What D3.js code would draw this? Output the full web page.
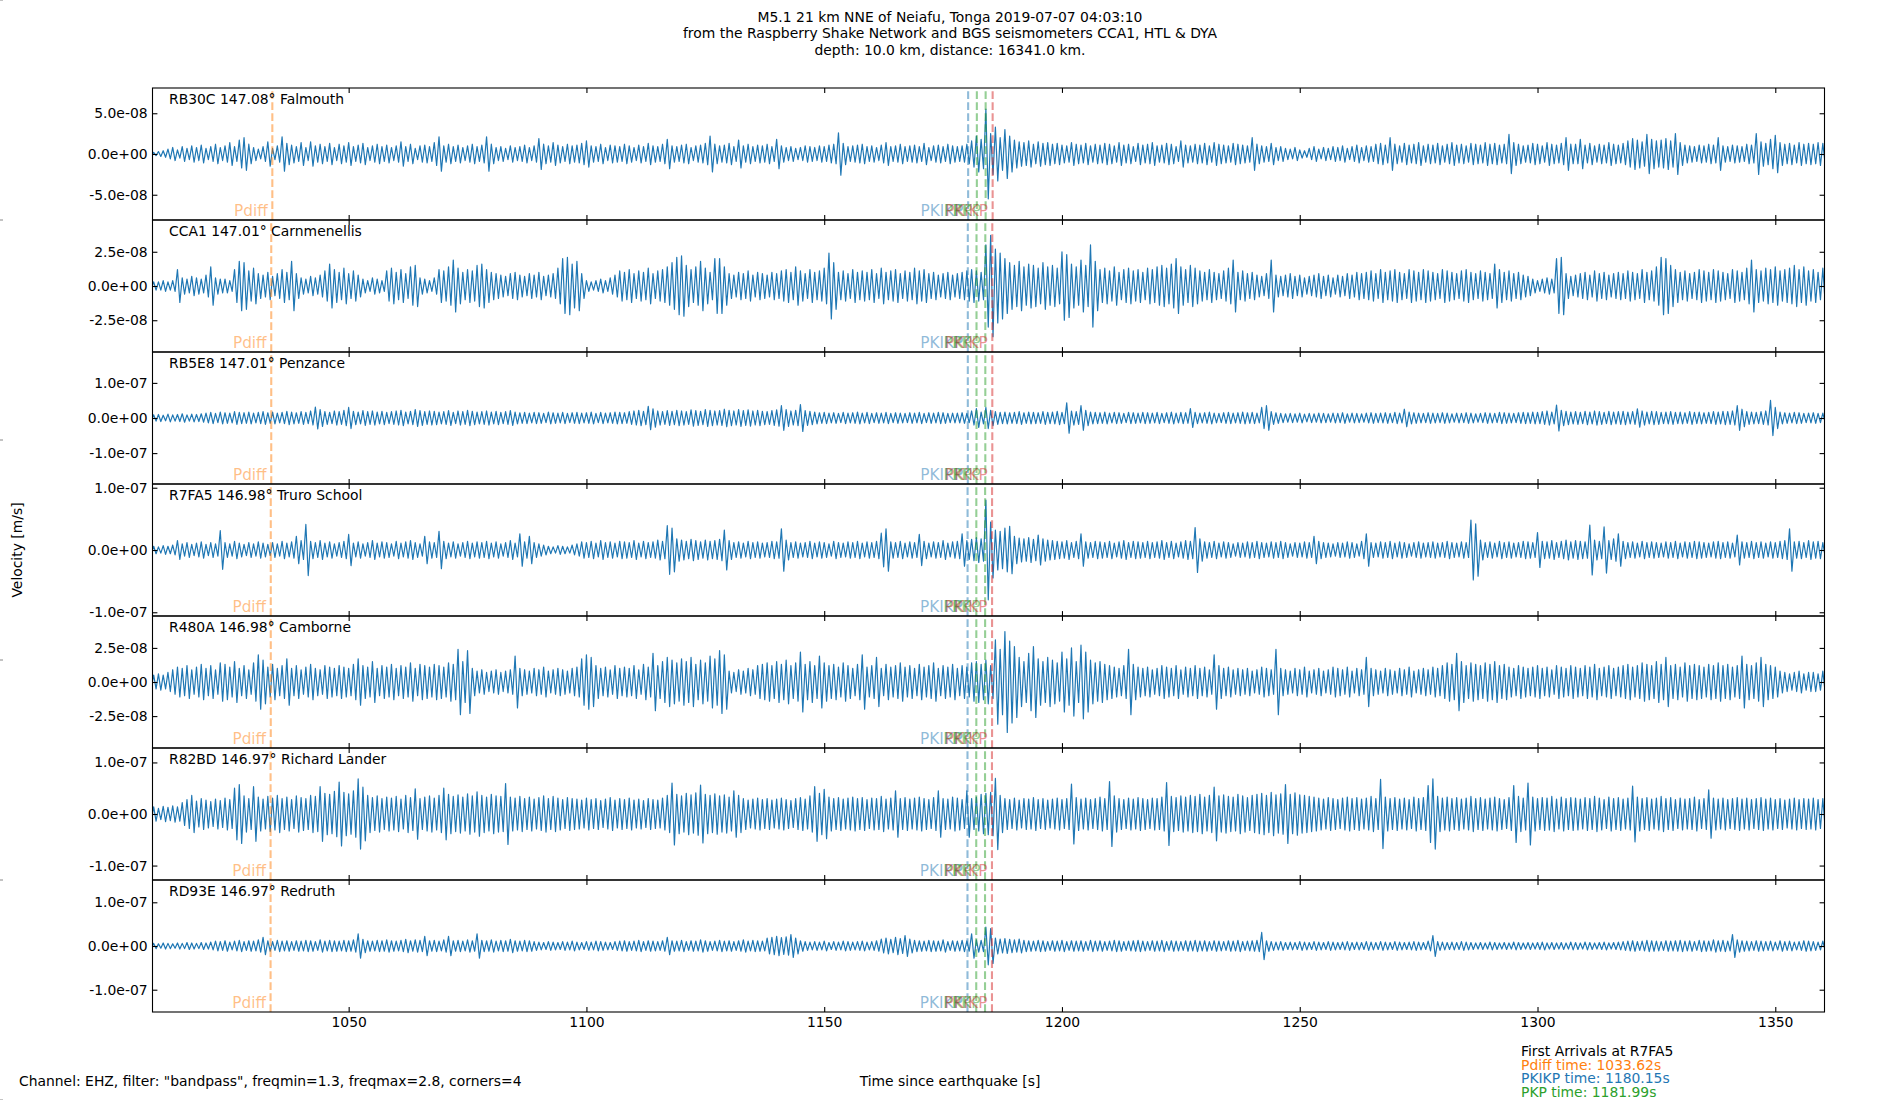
<!DOCTYPE html>
<html lang="en">
<head>
<meta charset="UTF-8">
<title>M5.1 Tonga - Raspberry Shake section</title>
<script src="https://d3js.org/d3.v7.min.js"></script>
<style>
  html, body { margin: 0; padding: 0; background: #fff; }
  svg text { font-family: "DejaVu Sans", sans-serif; }
</style>
</head>
<body>
<div id="chart"></div>
<script>

// ---- data -----------------------------------------------------------

var titleLines = [
  "M5.1 21 km NNE of Neiafu, Tonga 2019-07-07 04:03:10",
  "from the Raspberry Shake Network and BGS seismometers CCA1, HTL & DYA",
  "depth: 10.0 km, distance: 16341.0 km."
];

var stationLabels = [
  "RB30C 147.08° Falmouth",
  "CCA1 147.01° Carnmenellis",
  "RB5E8 147.01° Penzance",
  "R7FA5 146.98° Truro School",
  "R480A 146.98° Camborne",
  "R82BD 146.97° Richard Lander",
  "RD93E 146.97° Redruth"
];

// symmetric y limits per panel (m/s) and the ticks shown on each
var yLimits = [8.1e-8, 4.82e-8, 1.88e-7, 1.06e-7, 4.84e-8, 1.28e-7, 1.51e-7];
var yTicks = [
  [-5e-8, 0, 5e-8],
  [-2.5e-8, 0, 2.5e-8],
  [-1e-7, 0, 1e-7],
  [-1e-7, 0, 1e-7],
  [-2.5e-8, 0, 2.5e-8],
  [-1e-7, 0, 1e-7],
  [-1e-7, 0, 1e-7]
];

var xDomain = [1008.75, 1360.35];
var xTicks = [1050, 1100, 1150, 1200, 1250, 1300, 1350];

// phase arrival times per station (s)
var phaseNames = ["Pdiff", "PKIKP", "PKP", "PKP", "PKiKP"];
var pdiffTimes = [1033.95, 1033.72, 1033.72, 1033.62, 1033.62, 1033.58, 1033.58];
var pkikpTimes = [1180.27, 1180.20, 1180.20, 1180.15, 1180.15, 1180.13, 1180.13];
var pkpTimes   = [1182.10, 1182.03, 1182.03, 1181.99, 1181.99, 1181.97, 1181.97];
var pkp2Times  = [1183.95, 1183.88, 1183.88, 1183.84, 1183.84, 1183.82, 1183.82];
var pkikpInnerTimes = [1185.42, 1185.35, 1185.35, 1185.30, 1185.30, 1185.28, 1185.28];

var arrivalLines = [
  "First Arrivals at R7FA5",
  "Pdiff time: 1033.62s",
  "PKIKP time: 1180.15s",
  "PKP time: 1181.99s"
];

// peak amplitude of each 1 s window, nm/s, starting at t = 1008 s
var traceStart = 1008;
var traceRB30C = [
  2,2,3,4,6,8,5,9,7,10, 8,11,7,9,12,8,10,14,9,17, 20,12,8,6,9,15,7,10,21,13,
  11,9,14,8,15,10,12,9,13,8, 12,10,14,9,11,13,8,10,12,9, 11,8,10,15,9,12,7,10,11,9,
  14,21,10,12,9,11,8,10,12,9, 11,21,12,8,9,7,10,8,9,11, 8,10,19,12,10,14,11,9,12,10,
  11,13,16,10,9,12,8,11,10,9, 12,10,8,11,9,13,10,9,12,18, 10,9,11,12,8,10,11,13,22,12,
  10,11,13,9,17,10,12,9,11,10, 12,9,18,10,8,9,7,8,10,9, 8,10,9,11,12,26,13,9,10,11,
  12,9,10,8,11,14,9,10,12,9, 10,11,9,13,8,10,11,9,12,10, 9,10,12,16,22,18,55,25,33,20,
  30,22,17,15,14,16,12,15,13,14, 12,13,11,10,14,12,11,13,10,12, 11,13,12,10,14,11,12,9,13,11,
  12,14,10,11,13,12,9,16,11,10, 12,11,13,10,14,12,11,10,13,12, 11,10,20,12,10,9,13,8,9,7,
  6,8,5,4,7,9,6,8,7,9, 8,10,7,9,11,8,10,9,12,13, 11,20,12,10,13,11,12,14,10,12,
  11,13,10,12,14,11,12,10,13,12, 11,14,12,13,11,12,24,14,12,10, 11,13,12,10,14,12,11,13,20,12,
  12,18,11,13,10,12,11,14,12,11, 13,16,19,17,15,24,18,16,17,19, 16,25,14,11,10,9,11,10,12,11,
  20,10,9,11,10,9,12,11,25,15, 13,18,23,14,12,13,11,14,12,13, 12,14,13
];
var traceCCA1 = [
  2,3,3,4,3,4,12,6,5,7, 6,5,8,14,6,5,5,4,12,18, 17,11,13,9,8,10,7,9,12,10,
  18,9,6,5,7,6,8,11,16,12, 10,13,9,11,8,5,4,6,5,4, 11,13,10,12,9,14,15,6,5,4,
  6,12,11,14,19,13,10,12,11,15, 16,12,10,9,8,7,9,10,8,7, 9,8,10,7,8,9,13,20,21,16,
  18,9,4,3,4,5,4,6,8,11, 10,12,9,11,10,13,9,11,12,14, 17,21,22,15,12,14,18,13,10,20,
  20,14,9,8,10,9,11,8,10,9, 8,10,9,11,12,10,14,11,9,12, 10,11,13,24,17,10,11,9,12,10,
  11,10,12,9,13,10,11,12,9,11, 10,13,11,12,9,10,8,9,10,8, 9,10,11,12,11,10,30,37,27,24,
  20,17,15,18,14,16,15,13,17,14, 15,13,25,23,16,14,19,15,30,18, 12,13,11,14,10,12,13,11,12,10,
  13,12,14,15,13,16,20,14,12,15, 13,11,10,12,10,9,11,13,19,10, 11,9,10,8,7,9,19,8,7,8,
  9,7,8,6,7,8,9,7,8,6, 8,7,9,8,10,9,10,11,9,12, 10,11,12,10,9,12,11,10,12,11,
  10,9,12,11,10,9,11,12,10,9, 11,10,9,16,12,10,11,9,10,8, 7,5,4,5,6,5,20,21,9,7,
  8,9,10,8,11,9,10,8,9,10, 9,11,10,9,12,10,11,14,21,20, 15,12,10,11,9,10,12,11,10,12,
  11,10,9,12,11,10,13,19,12,11, 13,12,14,11,12,13,15,12,14,11, 12,10,13
];
var traceRB5E8 = [
  8,9,10,8,11,9,10,12,9,11, 10,12,14,16,13,17,15,14,18,16, 15,17,14,16,18,15,17,14,16,19,
  17,15,18,16,20,31,24,18,16,20, 18,22,30,19,17,21,18,20,17,19, 16,18,20,22,17,19,24,21,18,20,
  19,17,18,21,16,20,18,22,19,17, 18,20,17,19,16,18,21,17,15,16, 14,16,15,13,17,15,14,16,13,15,
  16,14,15,17,13,16,14,15,17,16, 15,18,20,22,19,33,26,20,18,21, 19,22,20,18,23,21,19,24,22,20,
  21,25,22,20,24,21,23,20,22,19, 18,21,23,35,24,20,22,38,21,19, 17,15,16,14,15,13,16,14,15,17,
  14,16,13,15,14,16,13,15,14,13, 15,14,16,13,15,14,16,15,13,14, 14,15,13,20,27,17,30,22,18,16,
  17,15,16,18,15,17,16,15,18,16, 17,19,16,43,20,18,35,22,17,16, 15,17,14,16,15,13,16,15,14,16,
  15,14,16,13,15,17,14,16,15,27, 16,14,15,17,14,13,15,16,14,15, 17,15,16,14,30,35,18,15,13,12,
  13,12,14,11,13,12,14,13,12,14, 13,15,12,14,13,12,14,15,13,14, 15,13,16,14,25,17,15,14,13,15,
  14,13,15,14,12,14,13,15,14,12, 13,15,14,13,16,15,14,13,15,16, 15,17,16,18,20,17,37,22,19,17,
  18,16,19,17,20,18,16,19,17,18, 19,17,18,26,20,17,19,18,16,17, 18,16,17,15,18,16,17,15,16,18,
  17,19,18,20,35,25,18,17,16,18, 20,50,30,17,15,14,16,15,13,14, 15,13,14
];
var traceR7FA5 = [
  5,6,5,7,6,8,15,10,12,9, 11,13,9,12,10,31,12,10,14,11, 9,12,10,13,11,9,12,10,14,11,
  13,22,15,41,14,12,15,11,13,10, 12,14,25,11,13,10,12,15,11,13, 12,10,14,11,13,15,12,10,22,13,
  12,30,14,11,13,10,12,14,11,13, 12,14,11,13,10,12,15,11,26,13, 22,12,10,8,6,5,7,6,5,8,
  10,13,12,14,11,15,12,13,11,14, 13,12,15,11,14,12,13,16,14,39, 35,18,16,14,17,15,13,16,14,15,
  17,32,15,12,13,11,14,12,13,11, 12,14,13,34,16,12,13,11,12,14, 11,13,12,10,14,12,11,13,12,14,
  11,13,12,14,27,34,13,12,14,11, 13,12,25,14,11,13,12,15,11,13, 14,26,15,17,20,18,80,45,32,30,
  35,38,22,19,18,20,17,24,18,16, 15,14,13,15,12,14,26,13,12,14, 13,12,14,11,13,15,12,14,13,12,
  14,12,13,15,12,14,11,13,15,14, 36,18,13,12,14,11,13,12,10,12, 11,13,12,14,12,11,13,12,14,12,
  10,12,11,13,12,22,14,12,11,10, 12,11,13,12,10,14,26,12,11,13, 12,14,11,13,12,10,12,13,11,12,
  13,11,12,14,12,11,13,12,48,42, 16,12,13,11,14,12,13,11,12,14, 13,12,28,14,13,15,12,14,16,13,
  15,14,13,40,16,14,37,15,18,26, 14,12,13,11,14,12,13,12,11,13, 12,14,11,13,12,14,13,12,11,13,
  14,12,13,11,24,13,12,14,12,13, 11,13,12,14,15,34,13,14,12,15, 13,14,12
];
var traceR480A = [
  4,5,6,5,7,9,11,10,12,9, 11,13,10,12,9,14,13,11,15,10, 12,9,14,20,16,11,13,10,12,17,
  10,12,9,11,13,10,9,12,11,10, 12,11,10,13,17,12,11,15,10,12, 11,13,10,12,11,14,10,13,12,11,
  13,12,11,14,13,24,15,23,10,8, 9,7,8,9,7,8,9,19,10,9, 8,10,9,11,8,9,10,9,8,10,
  11,17,20,18,12,10,11,9,12,10, 11,10,12,9,13,11,21,12,15,18, 16,14,17,15,18,13,16,14,19,17,
  23,20,8,7,9,8,10,9,12,13, 14,12,15,13,16,12,14,22,13,15, 12,19,14,12,13,11,14,12,10,13,
  20,11,12,18,10,13,11,12,14,11, 12,10,13,11,12,14,10,12,11,13, 10,12,11,14,15,13,16,12,31,24,
  37,30,26,18,15,21,26,17,15,18, 16,14,22,17,25,15,27,22,16,14, 15,13,12,11,10,12,24,13,11,10,
  11,9,10,12,11,10,12,9,11,10, 12,10,11,9,20,12,10,11,9,10, 9,10,8,9,11,10,9,24,10,9,
  8,10,9,11,8,9,10,8,9,11, 10,9,11,8,10,9,18,10,9,8, 10,9,8,10,9,11,8,9,10,9,
  11,10,12,14,13,21,15,12,14,13, 12,14,13,15,12,13,11,10,12,11, 10,11,12,10,11,9,12,11,10,12,
  11,10,12,11,13,10,11,12,10,11, 12,13,11,12,14,13,12,15,13,18, 12,13,11,14,12,13,12,11,13,12,
  14,12,13,11,12,19,13,12,14,18, 13,12,11,8,7,6,7,8,6,7, 7,6,8
];
var traceR82BD = [
  12,14,11,15,13,16,14,22,28,36, 25,30,27,24,29,26,31,28,50,57, 35,30,53,33,29,34,31,36,30,33,
  28,35,32,30,36,34,53,40,38,44, 62,42,39,45,68,52,36,32,35,30, 33,31,34,29,36,32,49,30,33,35,
  31,36,50,38,34,37,33,39,35,43, 36,33,38,35,34,59,33,31,34,30, 33,29,32,35,30,34,31,28,32,30,
  29,27,31,28,30,26,29,32,27,30, 28,31,27,29,26,30,28,27,31,36, 60,38,35,40,37,41,56,38,36,39,
  35,37,33,45,36,30,27,29,31,28, 30,27,29,31,28,26,30,32,29,35, 53,40,48,33,30,32,29,31,33,30,
  32,28,31,30,34,29,31,45,30,32, 29,31,33,30,28,32,45,30,29,33, 31,28,45,30,33,38,40,42,69,36,
  30,28,31,27,30,29,32,28,30,27, 29,31,28,30,58,32,29,31,28,30, 33,30,63,35,30,28,31,29,32,30,
  28,31,30,33,61,34,32,35,33,36, 34,38,33,36,52,35,37,34,33,38, 35,32,36,38,40,36,42,37,39,57,
  38,41,37,36,34,33,31,29,32,30, 28,31,33,30,32,29,31,34,30,67, 33,30,32,29,31,28,33,30,32,55,
  68,34,31,33,30,32,29,31,34,30, 32,29,31,33,30,28,32,55,34,31, 60,33,30,32,31,34,29,33,30,32,
  31,29,32,30,34,31,28,33,30,32, 29,31,54,33,30,32,29,31,34,30, 32,28,31,29,30,33,28,30,47,31,
  29,31,28,30,32,29,31,28,30,32, 29,31,28,30,27,29,31,28,30,29, 31,28,30
];
var traceRD93E = [
  5,6,5,7,6,5,7,6,8,7, 6,8,7,9,11,10,12,9,11,13, 10,12,11,14,20,12,10,13,11,12,
  10,12,11,13,12,10,14,11,13,12, 11,13,12,14,28,15,12,11,13,12, 14,12,11,13,15,12,14,13,22,12,
  13,11,14,22,12,13,11,14,12,28, 13,12,14,11,13,12,15,12,11,13, 12,10,9,8,10,9,8,10,9,11,
  9,8,10,9,11,10,9,8,10,11, 12,10,11,13,10,12,11,10,12,20, 12,11,13,10,12,11,14,12,10,11,
  13,11,12,10,12,14,11,13,12,11, 18,20,22,19,21,26,18,12,10,9, 10,9,11,8,10,9,11,10,9,10,
  11,9,10,12,16,18,15,20,17,24, 16,13,12,11,13,12,11,14,10,12, 11,13,12,28,14,13,43,40,18,16,
  17,15,14,16,13,12,11,13,12,10, 12,11,13,10,12,11,12,10,13,11, 12,10,11,13,12,10,11,12,13,11,
  10,12,11,13,10,12,11,10,12,11, 13,11,12,10,12,11,10,12,11,13, 10,11,12,13,31,12,10,9,10,8,
  9,8,10,9,8,10,9,8,10,9, 8,9,10,8,9,8,10,9,8,10, 9,8,10,9,8,9,10,9,8,11,
  24,10,9,8,9,8,10,9,8,7, 8,7,9,8,7,8,7,9,8,7, 8,7,8,9,7,8,7,8,7,9,
  8,7,9,8,7,8,9,7,8,9, 10,11,12,10,11,13,12,11,10,12, 11,12,13,11,12,10,13,12,11,14,
  12,13,11,26,14,12,11,10,12,11, 10,11,9,12,10,11,9,10,12,11, 10,9,11
];
var traces = [traceRB30C, traceCCA1, traceRB5E8, traceR7FA5, traceR480A, traceR82BD, traceRD93E];

// ---- layout -------------------------------------------------------------

var W = 1900, H = 1100;
var plotLeft = 152.5, plotRight = 1824.5, plotTop = 88, panelH = 132;
var tickLen = 4.9;
var fontMain = 13.9;   // 10 pt at 100 dpi
var fontPhase = 15.3;  // 11 pt

// matplotlib tab colours
var C0 = "#1f77b4", C1 = "#ff7f0e", C2 = "#2ca02c", C3 = "#d62728";
var phaseColors = [C1, C0, C2, C2, C3];

var svg = d3.select("#chart")
  .append("svg")
    .attr("width", W)
    .attr("height", H)
    .attr("viewBox", "0 0 " + W + " " + H);

svg.append("rect").attr("width", W).attr("height", H).attr("fill", "#fff");

var x = d3.scaleLinear().domain(xDomain).range([plotLeft, plotRight]);

// "%.1e" like matplotlib, two digit exponent
function sciFormat(v) {
  return v.toExponential(1).replace(/e([+-])(\d+)$/, function(m, s, e) {
    return "e" + s + (e.length < 2 ? "0" + e : e);
  });
}

function styleAxis(g) {
  g.select(".domain").remove();
  g.selectAll(".tick line").attr("stroke", "#000").attr("stroke-width", 1.1);
  g.selectAll(".tick text")
    .attr("fill", "#000")
    .style("font-family", "DejaVu Sans")
    .style("font-size", fontMain + "px");
}

stationLabels.forEach(function(label, i) {
  var top = plotTop + i * panelH;
  var bottom = top + panelH;
  var y = d3.scaleLinear().domain([-yLimits[i], yLimits[i]]).range([bottom, top]);
  var panel = svg.append("g").attr("class", "panel");

  panel.append("clipPath").attr("id", "clip" + i)
    .append("rect")
      .attr("x", plotLeft).attr("y", top)
      .attr("width", plotRight - plotLeft).attr("height", panelH);

  // each 1 s window drawn as one peak and one trough
  var pts = [];
  traces[i].forEach(function(a, k) {
    var t = traceStart + k;
    pts.push([t, a * 1e-9]);
    pts.push([t + 0.5, -a * 1e-9]);
  });

  var line = d3.line()
    .x(function(d) { return x(d[0]); })
    .y(function(d) { return y(d[1]); });

  panel.append("path")
    .datum(pts)
    .attr("clip-path", "url(#clip" + i + ")")
    .attr("fill", "none")
    .attr("stroke", C0)
    .attr("stroke-width", 1.2)
    .attr("stroke-linejoin", "round")
    .attr("d", line);

  // phase lines (drawn bottom to top like axvline)
  var times = [pdiffTimes[i], pkikpTimes[i], pkpTimes[i], pkp2Times[i], pkikpInnerTimes[i]];
  times.forEach(function(t, p) {
    panel.append("line")
      .attr("x1", x(t)).attr("x2", x(t))
      .attr("y1", bottom).attr("y2", top)
      .attr("stroke", phaseColors[p])
      .attr("stroke-opacity", 0.5)
      .attr("stroke-width", 2.08)
      .attr("stroke-dasharray", "7.7,3.3");
  });
  times.forEach(function(t, p) {
    panel.append("text")
      .attr("x", x(t) - 4.6)
      .attr("y", bottom - 3.6)
      .attr("text-anchor", "end")
      .attr("fill", phaseColors[p])
      .attr("fill-opacity", 0.5)
      .style("font-size", fontPhase + "px")
      .text(phaseNames[p]);
  });

  // station label
  panel.append("text")
    .attr("x", plotLeft + 16.5)
    .attr("y", top + 16.2)
    .style("font-size", fontMain + "px")
    .attr("fill", "#000")
    .text(label);

  // ticks pointing inwards on all four sides
  panel.append("g")
    .attr("transform", "translate(" + plotLeft + ",0)")
    .call(d3.axisLeft(y).tickValues(yTicks[i]).tickSize(-tickLen).tickPadding(tickLen).tickFormat(sciFormat))
    .call(styleAxis);
  panel.append("g")
    .attr("transform", "translate(" + plotRight + ",0)")
    .call(d3.axisRight(y).tickValues(yTicks[i]).tickSize(-tickLen).tickFormat(""))
    .call(styleAxis);
  panel.append("g")
    .attr("transform", "translate(0," + top + ")")
    .call(d3.axisTop(x).tickValues(xTicks).tickSize(-tickLen).tickFormat(""))
    .call(styleAxis);
  var isLast = i === stationLabels.length - 1;
  panel.append("g")
    .attr("transform", "translate(0," + bottom + ")")
    .call(d3.axisBottom(x).tickValues(xTicks).tickSize(-tickLen).tickPadding(tickLen)
      .tickFormat(isLast ? d3.format("d") : ""))
    .call(styleAxis);

  panel.append("rect")
    .attr("x", plotLeft).attr("y", top)
    .attr("width", plotRight - plotLeft).attr("height", panelH)
    .attr("fill", "none")
    .attr("stroke", "#000")
    .attr("stroke-width", 1.1);
});

// title
svg.append("g").selectAll("text")
  .data(titleLines)
  .enter()
  .append("text")
    .attr("x", W / 2)
    .attr("y", function(d, i) { return 21.5 + i * 16.7; })
    .attr("text-anchor", "middle")
    .style("font-size", fontMain + "px")
    .text(function(d) { return d; });

// y label
svg.append("text")
  .attr("transform", "translate(21.5," + (H / 2) + ") rotate(-90)")
  .attr("text-anchor", "middle")
  .style("font-size", fontMain + "px")
  .text("Velocity [m/s]");

// x label and filter note
svg.append("text")
  .attr("x", W / 2)
  .attr("y", 1086)
  .attr("text-anchor", "middle")
  .style("font-size", fontMain + "px")
  .text("Time since earthquake [s]");

svg.append("text")
  .attr("x", 19)
  .attr("y", 1086)
  .style("font-size", fontMain + "px")
  .text('Channel: EHZ, filter: "bandpass", freqmin=1.3, freqmax=2.8, corners=4');

// first arrivals block
var arrivalColors = ["#000", C1, C0, C2];
svg.append("g").selectAll("text")
  .data(arrivalLines)
  .enter()
  .append("text")
    .attr("x", 1521)
    .attr("y", function(d, i) { return 1056 + i * 13.6; })
    .attr("fill", function(d, i) { return arrivalColors[i]; })
    .style("font-size", fontMain + "px")
    .text(function(d) { return d; });

// stray tick marks of the hidden full-figure axes at the left edge
svg.append("g").selectAll("line")
  .data([0, 0.2, 0.4, 0.6, 0.8, 1])
  .enter()
  .append("line")
    .attr("x1", 0).attr("x2", 3)
    .attr("y1", function(d) { return H * (1 - d); })
    .attr("y2", function(d) { return H * (1 - d); })
    .attr("stroke", "#888")
    .attr("stroke-width", 1);

</script>
</body>
</html>
